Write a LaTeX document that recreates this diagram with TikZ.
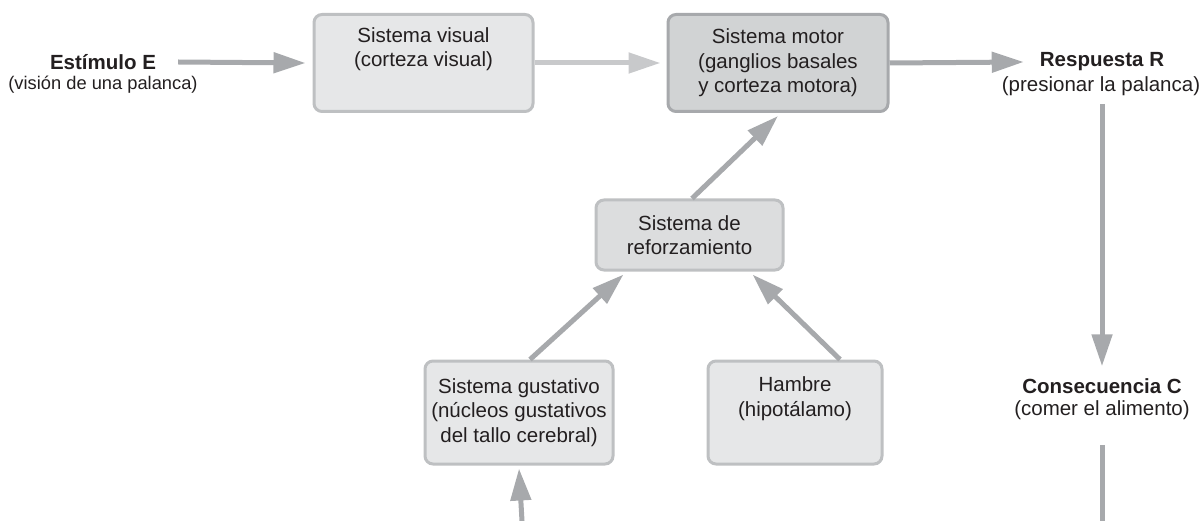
\documentclass[tikz,border=0pt]{standalone}
\usepackage{fontspec}
\setmainfont{Liberation Sans}
\usetikzlibrary{arrows.meta,positioning,calc}
\definecolor{boxlight}{RGB}{230,231,232}
\definecolor{boxdark}{RGB}{209,211,212}
\definecolor{boxmid}{RGB}{220,221,222}
\definecolor{edgelight}{RGB}{190,192,194}
\definecolor{edgedark}{RGB}{167,169,172}
\definecolor{arrdark}{RGB}{167,169,172}
\definecolor{arrlight}{RGB}{200,201,203}
\definecolor{txt}{RGB}{35,31,32}
\tikzset{
  caja/.style={draw=edgelight, line width=3pt, fill=boxlight, rounded corners=8pt,
               align=center, text=txt, inner sep=0pt, font=\fontsize{20.5}{24.5}\selectfont},
  flecha/.style={-{Triangle[length=32pt,width=20pt]}, arrdark, line width=5pt},
  flechaclara/.style={flecha, arrlight},
  linea/.style={arrdark, line width=5pt},
  tit/.style={font=\bfseries\fontsize{20.5}{24.5}\selectfont, text=txt, inner sep=0pt},
  sub/.style={font=\fontsize{20.5}{24.5}\selectfont, text=txt, inner sep=0pt},
}
\begin{document}
\begin{tikzpicture}[x=1pt, y=-1pt]
    \useasboundingbox (0,0) rectangle (1201,521);
    % cajas
    \node[caja, minimum width=219, minimum height=97] (visual) at (423.5,63)
         {Sistema visual\\(corteza visual)\\\strut};
    \node[caja, fill=boxdark, draw=edgedark, minimum width=220, minimum height=97] (motor) at (778,63)
         {Sistema motor\\(ganglios basales\\y corteza motora)};
    \node[caja, fill=boxmid, minimum width=187, minimum height=70] (refuerzo) at (689.5,235)
         {Sistema de\\reforzamiento};
    \node[caja, minimum width=188, minimum height=103] (gustativo) at (519,412.5)
         {Sistema gustativo\\(núcleos gustativos\\del tallo cerebral)};
    \node[caja, minimum width=174, minimum height=103] (hambre) at (795,412.5)
         {Hambre\\(hipotálamo)\\\strut};
    % etiquetas
    \node[tit] (estim) at (103,62) {Estímulo E};
    \node[sub, font=\fontsize{18.3}{22}\selectfont] (estimsub) at (103,85) {(visión de una palanca)};
    \node[tit] (resp) at (1102,62) {Respuesta R};
    \node[sub] (respsub) at (1101,86) {(presionar la palanca)};
    \node[tit] (cons) at (1102,386) {Consecuencia C};
    \node[sub] (conssub) at (1102,410) {(comer el alimento)};
    \coordinate (abajoC) at (1102,521);
    \coordinate (abajoG) at (522,521);
    % flechas
    \draw[flecha] ([xshift=22pt]estim.east) -- ([xshift=-7pt]visual.west);
    \draw[flechaclara] (visual.east) -- ([xshift=-6pt]motor.west);
    \draw[flecha] (motor.east) -- ([xshift=-16pt]resp.west);
    \draw[flecha] ([yshift=-8pt]respsub.south -| resp) -- ([yshift=12pt]cons.north);
    \draw[linea] ([yshift=-25pt]conssub.south) -- (abajoC);
    \draw[flecha] (abajoG) -- ([yshift=-3pt]gustativo.south);
    \draw[flecha] ([xshift=11pt]gustativo.north) -- ([xshift=-66pt,yshift=-3pt]refuerzo.south);
    \draw[flecha] ([xshift=45pt]hambre.north) -- ([xshift=63pt,yshift=-3pt]refuerzo.south);
    \draw[flecha] ([xshift=2.5pt]refuerzo.north) -- ([yshift=-3pt]motor.south);
\end{tikzpicture}
\end{document}
